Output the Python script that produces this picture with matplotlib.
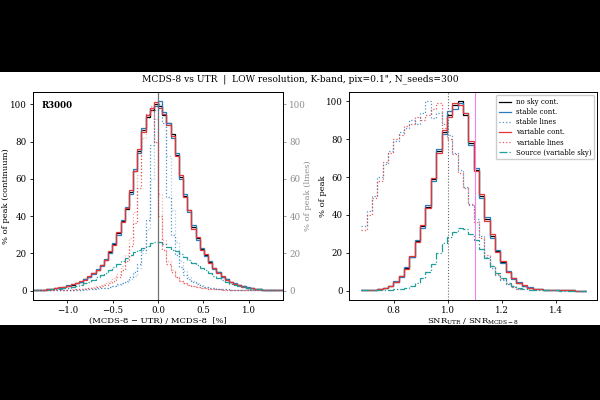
import matplotlib
matplotlib.use("Agg")
import matplotlib.pyplot as plt
from matplotlib.patches import Rectangle
import numpy as np

plt.rcParams['font.family'] = ['DejaVu Serif']
plt.rcParams['mathtext.fontset'] = 'dejavuserif'
plt.rcParams['font.size'] = 6.0

#==============================================================================
# Data
#==============================================================================
# left panel: (MCDS-8 - UTR) / MCDS-8 [%], 60 bins from -1.38 to 1.38
edges_L = np.linspace(-1.38, 1.38, 61)

nosky_cont_L = [0.3, 0.4, 0.5, 0.7, 0.9, 1.2, 1.6, 2.1, 2.6, 3.2,
                3.9, 4.8, 6.0, 7.5, 9.3, 11.2, 13.5, 16.5, 20.5, 25,
                31, 37.5, 44, 53, 64, 75, 86, 93, 97, 100,
                99, 94, 90, 84, 73, 61, 51, 43, 34, 28,
                22.5, 19, 15.5, 12, 9.8, 7.5, 6.0, 4.6, 3.7, 2.8,
                2.2, 1.6, 1.2, 0.9, 0.7, 0.5, 0.4, 0.3, 0.2, 0.2]
stable_cont_L = [0.3, 0.4, 0.5, 0.6, 0.9, 1.3, 1.6, 2.0, 2.7, 3.3,
                 4.0, 4.7, 6.2, 7.3, 9.0, 11.5, 13.2, 16.8, 20.0, 25.5,
                 30, 38, 45, 52, 65, 74, 87, 94, 98, 99,
                 101.5, 96, 90, 82, 74, 60, 52, 42, 35, 27,
                 23, 18.5, 15.8, 11.8, 10, 7.3, 6.1, 4.5, 3.8, 2.7,
                 2.2, 1.7, 1.2, 0.9, 0.7, 0.5, 0.4, 0.3, 0.2, 0.2]
variable_cont_L = [0.3, 0.4, 0.5, 0.7, 1.0, 1.2, 1.7, 2.1, 2.5, 3.3,
                   3.8, 4.9, 5.8, 7.6, 9.4, 11.0, 13.8, 16.2, 21, 24.5,
                   31.5, 37, 44.5, 54, 64, 76, 85, 94, 98, 101,
                   98, 95, 89, 83, 72, 62, 50, 43, 33, 28.5,
                   22, 19.5, 15, 12.3, 9.5, 7.6, 5.8, 4.7, 3.6, 2.9,
                   2.1, 1.6, 1.3, 0.9, 0.6, 0.5, 0.4, 0.3, 0.2, 0.2]
stable_lines_L = [0.1, 0.1, 0.1, 0.1, 0.15, 0.2, 0.2, 0.25, 0.3, 0.35,
                  0.4, 0.5, 0.6, 0.7, 0.9, 1.1, 1.3, 1.6, 2.0, 2.6,
                  3.3, 4.2, 5.3, 7, 10, 14, 22, 38, 78, 97,
                  100, 90, 50, 30, 19, 12.5, 8.5, 6, 4.5, 3.3,
                  2.5, 1.9, 1.5, 1.2, 0.9, 0.7, 0.6, 0.5, 0.4, 0.3,
                  0.25, 0.2, 0.2, 0.15, 0.1, 0.1, 0.1, 0.1, 0.1, 0.1]
stable_lines2_L = [0.1, 0.1, 0.1, 0.1, 0.1, 0.15, 0.2, 0.2, 0.25, 0.3,
                   0.35, 0.4, 0.5, 0.6, 0.8, 1.0, 1.2, 1.5, 1.9, 2.4,
                   3.0, 3.8, 4.8, 6, 8, 12, 20, 33, 60, 92,
                   100, 95, 72, 43, 26, 16, 10.5, 7.2, 5.2, 3.8,
                   2.8, 2.1, 1.6, 1.3, 1.0, 0.8, 0.6, 0.5, 0.4, 0.35,
                   0.3, 0.25, 0.2, 0.15, 0.15, 0.1, 0.1, 0.1, 0.1, 0.1]
variable_lines_L = [0.1, 0.1, 0.15, 0.15, 0.2, 0.25, 0.3, 0.35, 0.4, 0.5,
                    0.6, 0.7, 0.9, 1.1, 1.4, 1.8, 2.3, 3, 3.8, 5,
                    7.5, 11, 16, 24, 36, 55, 86, 95, 97, 80,
                    40, 22, 14, 10, 7, 5, 3.8, 3, 2.3, 1.8,
                    1.4, 1.1, 0.9, 0.7, 0.6, 0.5, 0.4, 0.35, 0.3, 0.25,
                    0.2, 0.2, 0.15, 0.15, 0.1, 0.1, 0.1, 0.1, 0.1, 0.1]
variable_lines2_L = [0.1, 0.1, 0.15, 0.2, 0.2, 0.3, 0.35, 0.4, 0.5, 0.6,
                     0.7, 0.9, 1.1, 1.4, 1.8, 2.3, 3.0, 3.8, 5, 6.5,
                     9, 13, 19, 28, 42, 62, 82, 94, 99, 92,
                     52, 27, 16, 11, 7.5, 5.3, 4, 3, 2.4, 1.9,
                     1.5, 1.2, 0.9, 0.7, 0.6, 0.5, 0.4, 0.35, 0.3, 0.25,
                     0.2, 0.2, 0.15, 0.15, 0.1, 0.1, 0.1, 0.1, 0.1, 0.1]
source_L = [0.2, 0.3, 0.4, 0.5, 0.6, 0.8, 1.0, 1.2, 1.5, 1.9,
            2.4, 3.0, 3.8, 4.7, 5.8, 7.0, 8.2, 9.5, 11, 12.8,
            14.5, 16, 17.5, 19, 20.5, 22, 23, 24, 25.5, 26,
            25.8, 25, 23.5, 22, 21, 19.5, 18, 16.5, 15, 13.5,
            12, 10.8, 9.5, 8, 6.8, 5.6, 4.5, 3.6, 2.9, 2.2,
            1.7, 1.3, 1.0, 0.8, 0.6, 0.5, 0.4, 0.3, 0.2, 0.2]

# right panel: SNR_UTR / SNR_MCDS-8, 42 bins from 0.68 to 1.51
edges_R = np.linspace(0.68, 1.51, 43)

nosky_cont_R = [0.1, 0.2, 0.4, 0.7, 1.2, 2.5, 4.5, 7.5, 12, 18,
                26, 34, 44, 59, 74, 84, 93, 98, 100, 93,
                78, 64, 50, 38, 29, 21, 15, 10, 6.5, 4.2,
                2.6, 1.6, 1.0, 0.6, 0.4, 0.2, 0.1, 0.1, 0.05, 0.05,
                0.0, 0.0]
stable_cont_R = [0.1, 0.2, 0.3, 0.8, 1.3, 2.4, 4.8, 7.2, 12.5, 17.5,
                 26.5, 33, 45, 58, 75, 83, 95, 96, 99, 94,
                 77, 65, 49, 39, 28, 21.5, 14.5, 10.5, 6.2, 4.4,
                 2.5, 1.7, 0.9, 0.6, 0.4, 0.2, 0.1, 0.1, 0.05, 0.05,
                 0.0, 0.0]
variable_cont_R = [0.1, 0.2, 0.4, 0.7, 1.1, 2.6, 4.4, 7.8, 11.6, 18.4,
                   25.5, 34.5, 43.5, 59.5, 73, 85, 92, 99, 98, 94,
                   79, 63, 51, 37, 30, 20.5, 15.5, 9.8, 6.8, 4.0,
                   2.7, 1.5, 1.0, 0.6, 0.3, 0.2, 0.1, 0.1, 0.05, 0.05,
                   0.0, 0.0]
stable_lines_R = [34, 42, 50, 60, 67, 74, 79, 84, 86, 90,
                  88, 94, 100, 91, 94, 88, 82, 73, 64, 55,
                  45, 38, 29, 18, 12, 8, 5.5, 3.5, 2, 1.0]
variable_lines_R = [32, 40, 49, 58, 68, 73, 80, 82, 87, 88,
                    92, 90, 93, 96, 99, 86, 80, 72, 62, 54,
                    46, 36, 28, 19, 13, 9, 6, 3.5, 2, 0.8]
source_R = [0.05, 0.1, 0.1, 0.2, 0.3, 0.4, 0.6, 1.0, 1.5, 2.5,
            4, 6.5, 10, 14, 20, 25, 28.5, 31, 33, 32.5,
            30, 26.5, 22, 17, 13, 9.5, 6.5, 4, 2.5, 1.5,
            0.9, 0.5, 0.3, 0.2, 0.1, 0.05, 0.05, 0.0, 0.0, 0.0,
            0.0, 0.0]

c_blue = '#2b7bba'
c_red = '#e0363a'
c_teal = '#1f9e9a'

#==============================================================================
# Figure
#==============================================================================
fig = plt.figure(figsize=(6, 4), dpi=100, facecolor='black')
fig.patches.append(Rectangle((0, 0.1875), 1, 0.6325, transform=fig.transFigure,
                             facecolor='white', edgecolor='none', zorder=-1))

fig.text(0.5, 0.8025, 'MCDS-8 vs UTR  |  LOW resolution, K-band, pix=0.1", N_seeds=300',
         ha='center', va='center', fontsize=6.6)

ax1 = fig.add_axes([0.055, 0.25, 0.4167, 0.52])
ax1b = ax1.twinx()
ax2 = fig.add_axes([0.5817, 0.25, 0.414, 0.52])

lw = 0.9
# left panel
ax1.stairs(nosky_cont_L, edges_L, baseline=None, color='k', lw=lw)
ax1.stairs(stable_cont_L, edges_L, baseline=None, color=c_blue, lw=lw)
ax1.stairs(variable_cont_L, edges_L, baseline=None, color=c_red, lw=lw)
ax1.stairs(source_L, edges_L, baseline=None, color=c_teal, lw=lw, ls='-.')
ax1b.stairs(stable_lines2_L, edges_L, baseline=None, color=c_blue, lw=lw, ls=':', alpha=0.4)
ax1b.stairs(variable_lines2_L, edges_L, baseline=None, color=c_red, lw=lw, ls=':', alpha=0.4)
ax1b.stairs(stable_lines_L, edges_L, baseline=None, color=c_blue, lw=lw, ls=':', alpha=0.8)
ax1b.stairs(variable_lines_L, edges_L, baseline=None, color=c_red, lw=lw, ls=':', alpha=0.8)
ax1.axvline(0, color='0.45', lw=0.9)

ax1.set_xlim(-1.38, 1.38)
ax1.set_ylim(-5.1, 106.6)
ax1b.set_ylim(-5.1, 106.6)
ax1.set_xticks([-1.0, -0.5, 0.0, 0.5, 1.0])
ax1.set_yticks(np.arange(0, 101, 20))
ax1b.set_yticks(np.arange(0, 101, 20))
ax1.set_xlabel('(MCDS-8 \u2212 UTR) / MCDS-8  [%]', labelpad=1)
ax1.set_ylabel('% of peak (continuum)')
ax1.yaxis.set_label_coords(-0.09, 0.5)
ax1b.set_ylabel('% of peak (lines)', color='0.55')
ax1b.yaxis.set_label_coords(1.084, 0.5)
ax1b.tick_params(axis='y', colors='0.55')
ax1.text(0.035, 0.934, 'R3000', transform=ax1.transAxes, fontweight='bold',
         ha='left', va='center', fontsize=6.2)

# right panel
ax2.stairs(nosky_cont_R, edges_R, baseline=None, color='k', lw=lw, label='no sky cont.')
ax2.stairs(stable_cont_R, edges_R, baseline=None, color=c_blue, lw=lw, label='stable cont.')
ax2.stairs(stable_lines_R, edges_R[:len(stable_lines_R) + 1], baseline=None,
           color=c_blue, lw=lw, ls=':', alpha=0.8, label='stable lines')
ax2.stairs(variable_cont_R, edges_R, baseline=None, color=c_red, lw=lw, label='variable cont.')
ax2.stairs(variable_lines_R, edges_R[:len(variable_lines_R) + 1], baseline=None,
           color=c_red, lw=lw, ls=':', alpha=0.8, label='variable lines')
ax2.stairs(source_R, edges_R, baseline=None, color=c_teal, lw=lw, ls='-.',
           label='Source (variable sky)')
ax2.axvline(1.0, color='0.4', lw=0.8, ls=':')
ax2.axvline(1.1, color='violet', lw=0.8)

ax2.set_xlim(0.635, 1.552)
ax2.set_ylim(-5, 105)
ax2.set_xticks([0.8, 1.0, 1.2, 1.4])
ax2.set_yticks(np.arange(0, 101, 20))
ax2.set_xlabel(r'SNR$_{\mathrm{UTR}}$ / SNR$_{\mathrm{MCDS-8}}$', labelpad=1)
ax2.set_ylabel('% of peak')
ax2.yaxis.set_label_coords(-0.088, 0.5)
ax2.legend(loc='upper right', fontsize=5.0, labelspacing=0.3, handlelength=1.8,
           borderpad=0.4, handletextpad=0.6, fancybox=True, framealpha=1)

for a in (ax1, ax1b, ax2):
    a.tick_params(labelsize=6.2, length=2.5, width=0.6, pad=2)
    for s in a.spines.values():
        s.set_linewidth(0.7)

fig.savefig('out.png', dpi=100, facecolor=fig.get_facecolor())
